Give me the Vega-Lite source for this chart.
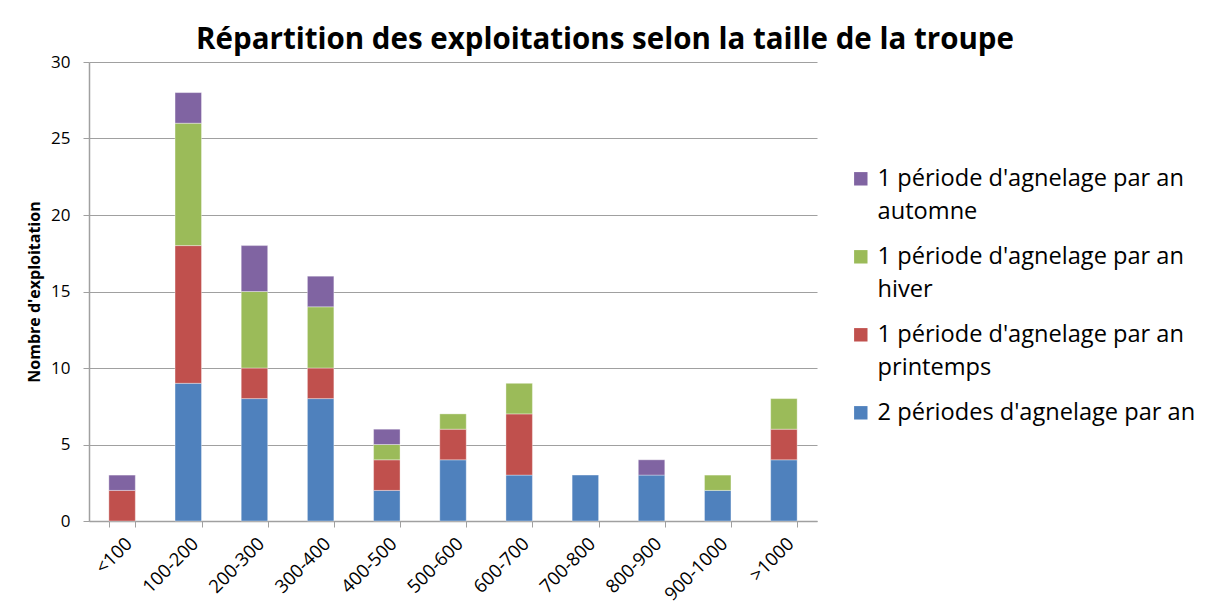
{
  "$schema": "https://vega.github.io/schema/vega-lite/v6.json",
  "autosize": "none",
  "width": 728,
  "height": 459,
  "padding": {"left": 89, "top": 62, "right": 388, "bottom": 87},
  "background": "white",
  "title": {
    "text": "Répartition des exploitations selon la taille de la troupe",
    "font": "Open Sans",
    "fontSize": 29.5,
    "fontWeight": "bold",
    "color": "#000000",
    "anchor": "middle",
    "dx": 152,
    "baseline": "alphabetic",
    "offset": -25
  },
  "data": {
    "values": [
      {"taille": "<100", "serie": "1 période d'agnelage par an printemps", "n": 2},
      {"taille": "<100", "serie": "1 période d'agnelage par an automne", "n": 1},
      {"taille": "100-200", "serie": "2 périodes d'agnelage par an", "n": 9},
      {"taille": "100-200", "serie": "1 période d'agnelage par an printemps", "n": 9},
      {"taille": "100-200", "serie": "1 période d'agnelage par an hiver", "n": 8},
      {"taille": "100-200", "serie": "1 période d'agnelage par an automne", "n": 2},
      {"taille": "200-300", "serie": "2 périodes d'agnelage par an", "n": 8},
      {"taille": "200-300", "serie": "1 période d'agnelage par an printemps", "n": 2},
      {"taille": "200-300", "serie": "1 période d'agnelage par an hiver", "n": 5},
      {"taille": "200-300", "serie": "1 période d'agnelage par an automne", "n": 3},
      {"taille": "300-400", "serie": "2 périodes d'agnelage par an", "n": 8},
      {"taille": "300-400", "serie": "1 période d'agnelage par an printemps", "n": 2},
      {"taille": "300-400", "serie": "1 période d'agnelage par an hiver", "n": 4},
      {"taille": "300-400", "serie": "1 période d'agnelage par an automne", "n": 2},
      {"taille": "400-500", "serie": "2 périodes d'agnelage par an", "n": 2},
      {"taille": "400-500", "serie": "1 période d'agnelage par an printemps", "n": 2},
      {"taille": "400-500", "serie": "1 période d'agnelage par an hiver", "n": 1},
      {"taille": "400-500", "serie": "1 période d'agnelage par an automne", "n": 1},
      {"taille": "500-600", "serie": "2 périodes d'agnelage par an", "n": 4},
      {"taille": "500-600", "serie": "1 période d'agnelage par an printemps", "n": 2},
      {"taille": "500-600", "serie": "1 période d'agnelage par an hiver", "n": 1},
      {"taille": "600-700", "serie": "2 périodes d'agnelage par an", "n": 3},
      {"taille": "600-700", "serie": "1 période d'agnelage par an printemps", "n": 4},
      {"taille": "600-700", "serie": "1 période d'agnelage par an hiver", "n": 2},
      {"taille": "700-800", "serie": "2 périodes d'agnelage par an", "n": 3},
      {"taille": "800-900", "serie": "2 périodes d'agnelage par an", "n": 3},
      {"taille": "800-900", "serie": "1 période d'agnelage par an automne", "n": 1},
      {"taille": "900-1000", "serie": "2 périodes d'agnelage par an", "n": 2},
      {"taille": "900-1000", "serie": "1 période d'agnelage par an hiver", "n": 1},
      {"taille": ">1000", "serie": "2 périodes d'agnelage par an", "n": 4},
      {"taille": ">1000", "serie": "1 période d'agnelage par an printemps", "n": 2},
      {"taille": ">1000", "serie": "1 période d'agnelage par an hiver", "n": 2}
    ]
  },
  "mark": {"type": "bar", "stroke": "#ffffff", "strokeWidth": 0.6, "strokeOpacity": 0.6},
  "encoding": {
    "x": {
      "field": "taille",
      "type": "nominal",
      "sort": ["<100", "100-200", "200-300", "300-400", "400-500", "500-600", "600-700", "700-800", "800-900", "900-1000", ">1000"],
      "scale": {"paddingInner": 0.6, "paddingOuter": 0.3},
      "axis": {
        "title": null,
        "labelAngle": -45,
        "labelAlign": "right",
        "labelBaseline": "top",
        "labelFont": "Open Sans",
        "labelFontSize": 18.5,
        "labelColor": "#000000",
        "labelPadding": 7,
        "tickBand": "extent",
        "tickSize": 6,
        "tickColor": "#A0A0A0",
        "domainColor": "#A0A0A0",
        "domainWidth": 1.5,
        "grid": false
      }
    },
    "y": {
      "field": "n",
      "type": "quantitative",
      "aggregate": "sum",
      "stack": "zero",
      "scale": {"domain": [0, 30], "nice": false},
      "axis": {
        "title": "Nombre d'exploitation",
        "titleFont": "Open Sans",
        "titleFontSize": 16,
        "titleFontWeight": "bold",
        "titleColor": "#000000",
        "titlePadding": 8,
        "values": [0, 5, 10, 15, 20, 25, 30],
        "labelFont": "Open Sans",
        "labelFontSize": 17,
        "labelColor": "#000000",
        "labelPadding": 13,
        "tickSize": 6,
        "tickColor": "#A0A0A0",
        "domainColor": "#A0A0A0",
        "domainWidth": 1.5,
        "gridColor": "#A0A0A0",
        "gridWidth": 1.2
      }
    },
    "color": {
      "field": "serie",
      "type": "nominal",
      "scale": {
        "domain": [
          "1 période d'agnelage par an automne",
          "1 période d'agnelage par an hiver",
          "1 période d'agnelage par an printemps",
          "2 périodes d'agnelage par an"
        ],
        "range": ["#8064A2", "#9BBB59", "#C0504D", "#4F81BD"]
      },
      "legend": {
        "title": null,
        "orient": "none",
        "legendX": 760,
        "legendY": 105,
        "symbolType": "square",
        "symbolSize": 180,
        "symbolStrokeWidth": 0,
        "labelFont": "Open Sans",
        "labelFontSize": 23.6,
        "labelColor": "#000000",
        "labelOffset": 5,
        "labelLimit": 400,
        "labelBaseline": "middle",
        "rowPadding": 20,
        "labelExpr": "slice(datum.label, 0, 1) == '2' ? datum.label : [slice(datum.label, 0, 27), slice(datum.label, 28)]"
      }
    },
    "order": {"field": "serie", "sort": "descending"}
  },
  "config": {
    "view": {"stroke": null},
    "style": {"guide-label": {"lineHeight": 33}}
  }
}
